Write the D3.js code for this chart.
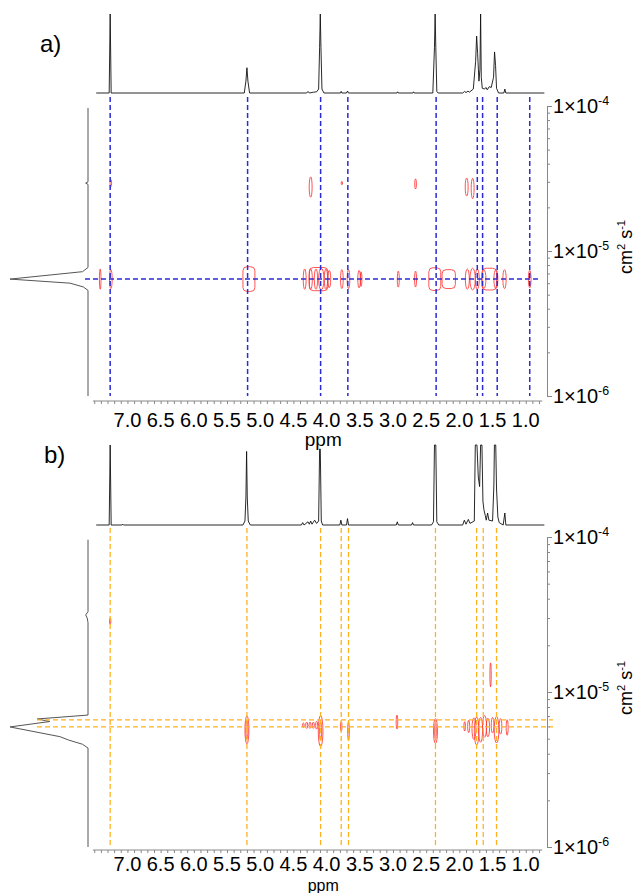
<!DOCTYPE html>
<html>
<head>
<meta charset="utf-8">
<script src="https://cdn.jsdelivr.net/npm/d3@7"></script>
<style>
  body { margin: 0; background: #fff; }
  svg { display: block; font-family: "Liberation Sans", Arial, sans-serif; }
</style>
</head>
<body>
<div id="chart"></div>
<script>
// ---- values ----
const ppmTicks = [7.0, 6.5, 6.0, 5.5, 5.0, 4.5, 4.0, 3.5, 3.0, 2.5, 2.0, 1.5, 1.0];
const decadeTicks = [1e-4, 1e-5, 1e-6];

// 1D 1H spectra: [ppm, relative intensity]
const spectrumA = [
  [7.47,0],[7.275,0],[7.26,1],[7.245,0],
  [5.24,0],[5.215,0.15],[5.2,0.32],[5.185,0.15],[5.16,0],
  [4.3,0],[4.28,0.02],[4.26,0],[4.2,0.01],[4.15,0.015],[4.12,0.05],[4.105,0.58],[4.095,1],[4.085,0.58],[4.07,0.05],[4.04,0],
  [3.79,0],[3.78,0.02],[3.77,0],[3.7,0],[3.685,0.025],[3.67,0],
  [2.94,0],[2.93,0.015],[2.92,0],[2.7,0],[2.69,0.015],[2.68,0],
  [2.4,0],[2.375,0.58],[2.365,1],[2.355,0.58],[2.34,0.02],[2.32,0],
  [1.95,0],[1.92,0.02],[1.9,0.005],[1.87,0.025],[1.85,0.01],[1.79,0.05],[1.755,0.4],[1.74,0.72],[1.725,0.5],[1.705,0.15],
  [1.69,0.3],[1.68,1],[1.67,0.2],[1.655,0.06],[1.62,0.05],[1.6,0.07],[1.58,0.04],[1.55,0.08],[1.52,0.07],
  [1.485,0.2],[1.47,0.52],[1.455,0.35],[1.44,0.06],[1.41,0],[1.33,0],[1.315,0.05],[1.3,0],[0.72,0]
];
const spectrumB = [
  [7.47,0],[7.275,0],[7.26,1],[7.245,0],[7.08,0],[7.07,0.01],[7.06,0],
  [5.26,0],[5.23,0.05],[5.215,0.35],[5.205,0.92],[5.195,0.35],[5.18,0.05],[5.15,0],
  [4.38,0],[4.36,0.03],[4.34,0],[4.28,0.04],[4.26,0.01],[4.24,0.05],[4.22,0.01],[4.18,0.06],[4.15,0.02],[4.12,0.05],
  [4.105,0.95],[4.095,0.95],[4.08,0.05],[4.06,0],
  [3.8,0],[3.785,0.06],[3.77,0],[3.7,0],[3.685,0.08],[3.67,0],
  [2.95,0],[2.935,0.04],[2.92,0],[2.72,0],[2.705,0.03],[2.69,0],
  [2.42,0],[2.39,0.04],[2.375,1],[2.355,1],[2.34,0.04],[2.31,0],
  [1.95,0],[1.925,0.06],[1.9,0.01],[1.865,0.07],[1.84,0.02],[1.775,0.05],[1.76,1],[1.735,1],[1.715,0.6],[1.695,0.48],
  [1.68,1],[1.66,1],[1.645,0.3],[1.63,0.19],[1.61,0.12],[1.595,0.06],[1.575,0.15],[1.555,0.06],
  [1.5,0.05],[1.48,0.5],[1.472,1],[1.452,1],[1.44,0.45],[1.42,0.1],[1.4,0.03],[1.34,0],[1.315,0.15],[1.3,0],[0.72,0]
];

// DOSY projections: [D (cm2/s), relative intensity]
const projectionA = [
  [9.7e-5,0],[3.0e-5,0],[2.94e-5,0.03],[2.88e-5,0],
  [7.7e-6,0],[7.2e-6,0.07],[6.4e-6,1],[6.0e-6,0.23],[5.65e-6,0.06],[5.35e-6,0],[1e-6,0]
];
const projectionB = [
  [9.6e-5,0],[3.3e-5,0],[3.14e-5,0.03],[3.0e-5,0.01],[2.8e-5,0],
  [7.1e-6,0],[6.7e-6,0.65],[6.45e-6,0.49],[5.95e-6,1],[5.15e-6,0.36],[4.9e-6,0.25],[4.6e-6,0.07],[4.35e-6,0],[1e-6,0]
];

// dashed guides
const guidesPpmA = [7.26, 5.19, 4.09, 3.68, 2.35, 1.73, 1.65, 1.43, 0.94];
const guidesDA = [6.4e-6];
const guidesPpmB = [7.26, 5.2, 4.09, 3.78, 3.67, 2.36, 1.74, 1.64, 1.44];
const guidesDB = [6.6e-6, 5.95e-6];

// contours: [ppm, D, half-width (ppm), half-height (decades)]
const contoursA = [
  [7.41,6.4e-6,0.012,0.07],[7.25,6.4e-6,0.02,0.065],[4.33,6.4e-6,0.022,0.07],
  [4.24,6.4e-6,0.025,0.07],[4.16,6.4e-6,0.025,0.07],[4.08,6.4e-6,0.04,0.075],[4.01,6.4e-6,0.025,0.07],
  [3.96,6.4e-6,0.022,0.06],[3.77,6.4e-6,0.02,0.065],[3.67,6.4e-6,0.02,0.065],[3.51,6.4e-6,0.02,0.06],
  [3.48,6.4e-6,0.012,0.05],[2.92,6.4e-6,0.015,0.055],[2.66,6.4e-6,0.015,0.055],
  [1.88,6.4e-6,0.03,0.07],[1.8,6.4e-6,0.04,0.075],[1.73,6.4e-6,0.03,0.07],[1.63,6.4e-6,0.03,0.065],
  [1.45,6.4e-6,0.03,0.065],[1.32,6.4e-6,0.025,0.065],[0.94,6.4e-6,0.02,0.06],
  [7.25,2.94e-5,0.012,0.024],[4.24,2.76e-5,0.022,0.07],[3.77,2.94e-5,0.01,0.012],
  [2.66,2.9e-5,0.013,0.035],[1.89,2.76e-5,0.022,0.062],[1.8,2.7e-5,0.022,0.07]
];
const boxesA = [
  [5.17,6.4e-6,0.09,0.085],[4.12,6.4e-6,0.14,0.08],[2.37,6.4e-6,0.09,0.078],
  [2.16,6.4e-6,0.1,0.065],[1.55,6.4e-6,0.11,0.075]
];
const contoursB = [
  [7.26,2.87e-5,0.01,0.02],[1.53,1.29e-5,0.01,0.077],
  [5.2,5.7e-6,0.03,0.09],[5.2,5.7e-6,0.015,0.06],
  [4.35,6.1e-6,0.012,0.015],[4.3,6.1e-6,0.015,0.02],[4.25,6.1e-6,0.015,0.02],[4.2,6.1e-6,0.015,0.02],
  [4.15,6.1e-6,0.015,0.025],[4.09,5.6e-6,0.035,0.1],[4.09,5.6e-6,0.015,0.06],
  [3.78,6e-6,0.012,0.03],[3.67,5.6e-6,0.012,0.06],[2.94,6.4e-6,0.012,0.045],
  [2.36,5.6e-6,0.03,0.08],[2.36,5.6e-6,0.012,0.05],
  [1.92,6e-6,0.012,0.03],[1.86,6e-6,0.015,0.04],[1.78,5.8e-6,0.03,0.07],[1.74,5.6e-6,0.035,0.09],
  [1.68,5.7e-6,0.03,0.08],[1.62,6e-6,0.03,0.07],[1.57,5.9e-6,0.025,0.06],[1.5,6.1e-6,0.02,0.05],
  [1.44,5.7e-6,0.035,0.085],[1.38,6e-6,0.02,0.05],[1.28,5.9e-6,0.015,0.05]
];
const boxesB = [];

// ---- drawing ----
const W = 635, H = 893;
const svg = d3.select("#chart").append("svg")
    .attr("width", W)
    .attr("height", H);

// chemical shift axis is shared by both panels
const x = d3.scaleLinear().domain([7.6, 0.68]).range([87.6, 547]);
const proj = d3.scaleLinear().domain([0, 1]).range([88, 10]);

function supLabel(sel, base, sup) {
    sel.append("tspan").text(base);
    sel.append("tspan").attr("dy", -8).attr("font-size", "0.62em").text(sup);
}

function drawPanel(p) {
    const g = svg.append("g");
    const y = d3.scaleLog().domain([1e-4, 1e-6]).range([p.yTop, p.yBot]);
    const h = d3.scaleLinear().domain([0, 1]).range([p.specBase, p.specTop]);

    // panel letter
    g.append("text")
        .attr("x", p.letterX).attr("y", p.letterY)
        .attr("font-size", "24px")
        .text(p.letter);

    // 1D spectrum on top
    g.append("path")
        .datum(p.spectrum)
        .attr("fill", "none")
        .attr("stroke", "#111")
        .attr("stroke-width", 0.9)
        .attr("d", d3.line().x(d => x(d[0])).y(d => h(d[1])));

    // projection on the left
    g.append("path")
        .datum(p.projection)
        .attr("fill", "none")
        .attr("stroke", "#555")
        .attr("stroke-width", 1)
        .attr("d", d3.line().x(d => proj(d[1])).y(d => y(d[0])));

    // contours (drawn under the guides)
    g.selectAll(".cont")
        .data(p.contours)
        .join("ellipse")
        .attr("cx", d => x(d[0]))
        .attr("cy", d => y(d[1]))
        .attr("rx", d => Math.abs(x(d[0] + d[2]) - x(d[0])))
        .attr("ry", d => Math.abs(y(d[1] * Math.pow(10, d[3])) - y(d[1])))
        .attr("fill", "none")
        .attr("stroke", "#ff2a2a")
        .attr("stroke-width", 0.8);

    g.selectAll(".box")
        .data(p.boxes)
        .join("rect")
        .attr("x", d => x(d[0] + d[2]))
        .attr("y", d => y(d[1] * Math.pow(10, d[3])))
        .attr("width", d => x(d[0] - d[2]) - x(d[0] + d[2]))
        .attr("height", d => y(d[1] / Math.pow(10, d[3])) - y(d[1] * Math.pow(10, d[3])))
        .attr("rx", 4)
        .attr("fill", "none")
        .attr("stroke", "#ff2a2a")
        .attr("stroke-width", 0.8);

    // dashed guides
    g.selectAll(".vguide")
        .data(p.guidesPpm)
        .join("line")
        .attr("x1", d => x(d)).attr("x2", d => x(d))
        .attr("y1", p.guideTop).attr("y2", p.yBot)
        .attr("stroke", p.guideColor)
        .attr("stroke-width", p.guideWidth)
        .attr("stroke-dasharray", "5,3");

    g.selectAll(".hguide")
        .data(p.guidesD)
        .join("line")
        .attr("x1", p.hLeft).attr("x2", p.hRight)
        .attr("y1", d => y(d)).attr("y2", d => y(d))
        .attr("stroke", p.guideColor)
        .attr("stroke-width", p.guideWidth)
        .attr("stroke-dasharray", "5,3");

    // right log axis, minor ticks only, labels done by hand
    const ax = g.append("g")
        .attr("transform", "translate(547,0)")
        .call(d3.axisRight(y).tickSize(3).tickFormat(""));
    ax.select(".domain").attr("stroke", "#888");
    ax.selectAll(".tick line").attr("stroke", "#888")
        .attr("x2", d => decadeTicks.includes(d) ? 5 : 3);

    decadeTicks.forEach(v => {
        const t = g.append("text")
            .attr("x", 553)
            .attr("y", y(v) + 7)
            .attr("font-size", "20px");
        supLabel(t, "1\u00d710", "-" + Math.round(-Math.log10(v)));
    });

    const unit = g.append("text")
        .attr("transform", `translate(632, ${y(1e-5) - 4}) rotate(-90)`)
        .attr("text-anchor", "middle")
        .attr("font-size", "18px");
    unit.append("tspan").text("cm");
    unit.append("tspan").attr("dy", -7).attr("font-size", "0.62em").text("2");
    unit.append("tspan").attr("dy", 7).text(" s");
    unit.append("tspan").attr("dy", -7).attr("font-size", "0.62em").text("-1");

    // bottom ppm axis
    const xa = g.append("g").attr("transform", `translate(0, ${p.xAxisY})`);
    xa.call(d3.axisBottom(x)
            .tickValues(d3.range(75, 7, -1).map(d => d / 10))
            .tickSize(3).tickFormat(""));
    xa.select(".domain").remove();
    xa.selectAll(".tick line").attr("stroke", "#888");
    xa.append("line")
        .attr("x1", x(7.52)).attr("x2", x(0.75))
        .attr("stroke", "#888");

    g.selectAll(".xlab")
        .data(ppmTicks)
        .join("text")
        .attr("x", d => x(d))
        .attr("y", p.tickLabelY)
        .attr("text-anchor", "middle")
        .attr("font-size", "20px")
        .text(d => d.toFixed(1));

    g.append("text")
        .attr("x", x(4.05))
        .attr("y", p.ppmLabelY)
        .attr("text-anchor", "middle")
        .attr("font-size", p.ppmSize)
        .text("ppm");
}

drawPanel({
    letter: "a)", letterX: 40, letterY: 52,
    spectrum: spectrumA, projection: projectionA,
    contours: contoursA, boxes: boxesA,
    guidesPpm: guidesPpmA, guidesD: guidesDA,
    guideColor: "#2b2bd6", guideWidth: 1.5, hLeft: 85, hRight: 541,
    specBase: 93, specTop: 14, yTop: 106, yBot: 396, guideTop: 97,
    xAxisY: 401, tickLabelY: 427, ppmLabelY: 446, ppmSize: "19px"
});

drawPanel({
    letter: "b)", letterX: 44, letterY: 463,
    spectrum: spectrumB, projection: projectionB,
    contours: contoursB, boxes: boxesB,
    guidesPpm: guidesPpmB, guidesD: guidesDB,
    guideColor: "#ffb21e", guideWidth: 1.3, hLeft: 37, hRight: 553,
    specBase: 525, specTop: 445, yTop: 537, yBot: 847, guideTop: 528,
    xAxisY: 850, tickLabelY: 871, ppmLabelY: 891, ppmSize: "16px"
});
</script>
</body>
</html>
